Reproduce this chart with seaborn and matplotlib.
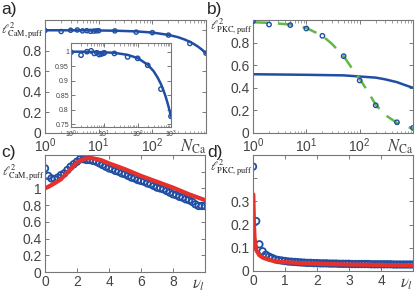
import numpy as np
import matplotlib
matplotlib.use("Agg")
import matplotlib.pyplot as plt
import seaborn as sns

# ---- data ----
# a) l^2 CaM vs N_Ca (points + fitted curve)
a_n = [1, 2, 3, 4, 5, 6, 7, 8, 9, 10, 20, 50, 100, 200, 500, 1000]
a_pts = [0.998, 0.988, 1.0, 1.003, 0.994, 0.996, 0.99, 0.992, 0.994, 0.996,
         0.994, 0.982, 0.977, 0.953, 0.871, 0.777]
a_fit_n = [1, 2, 5, 10, 20, 50, 100, 200, 300, 400, 500, 600, 700, 800, 900, 1000]
a_fit = [1.0, 1.0, 0.999, 0.998, 0.996, 0.989, 0.978, 0.955, 0.933, 0.91,
         0.888, 0.865, 0.843, 0.82, 0.798, 0.776]

# b) l^2 PKC vs N_Ca
b_n = [1, 2, 5, 10, 20, 50, 100, 200, 500, 1000]
b_pts = [0.99, 0.96, 0.955, 0.925, 0.86, 0.68, 0.465, 0.245, 0.095, 0.045]
b_dash_n = [1, 2, 5, 10, 20, 30, 50, 70, 100, 150, 200, 300, 500, 700, 1000]
b_dash = [0.98, 0.975, 0.96, 0.93, 0.86, 0.79, 0.68, 0.58, 0.48, 0.35, 0.25, 0.16, 0.09, 0.06, 0.04]
b_solid_n = [1, 10, 50, 100, 200, 300, 500, 700, 1000]
b_solid = [0.52, 0.515, 0.51, 0.50, 0.49, 0.475, 0.45, 0.425, 0.40]

# c) l^2 CaM vs nu_l
c_nu = np.arange(0, 10.01, 0.2)
c_pts = [1.24, 1.15, 1.12, 1.11, 1.13, 1.16, 1.18, 1.22, 1.26, 1.29,
         1.32, 1.35, 1.35, 1.34, 1.34, 1.33, 1.32, 1.30, 1.28, 1.26,
         1.24, 1.23, 1.21, 1.20, 1.18, 1.17, 1.15, 1.13, 1.12, 1.10,
         1.09, 1.08, 1.06, 1.05, 1.03, 1.01, 1.00, 0.99, 0.97, 0.95,
         0.93, 0.92, 0.90, 0.89, 0.87, 0.86, 0.84, 0.81, 0.79, 0.79, 0.79]
c_fit_nu = [0, 0.5, 1, 1.5, 2, 2.5, 3, 3.5, 4, 5, 6, 7, 8, 9, 10]
c_fit = [1.0, 1.05, 1.11, 1.21, 1.31, 1.36, 1.36, 1.34, 1.30, 1.23, 1.15, 1.08, 1.01, 0.93, 0.86]

# d) l^2 PKC vs nu_l
d_nu = np.arange(0, 5.01, 0.1)
d_pts = [0.45, 0.215, 0.115, 0.085, 0.07, 0.062, 0.056, 0.05, 0.047, 0.045,
         0.043, 0.041, 0.04, 0.039, 0.038, 0.037, 0.036, 0.035, 0.035, 0.034,
         0.034, 0.033, 0.033, 0.033, 0.032, 0.032, 0.032, 0.031, 0.031, 0.031,
         0.031, 0.03, 0.03, 0.03, 0.03, 0.03, 0.03, 0.029, 0.029, 0.029,
         0.029, 0.029, 0.029, 0.029, 0.028, 0.028, 0.028, 0.028, 0.028, 0.028, 0.028]
d_fit_nu = [0.01, 0.03, 0.05, 0.1, 0.2, 0.3, 0.5, 0.7, 1, 1.5, 2, 3, 4, 5]
d_fit = [0.33, 0.2, 0.14, 0.09, 0.068, 0.058, 0.048, 0.042, 0.038, 0.034, 0.031, 0.028, 0.026, 0.024]

BLUE = "#1f4ea3"
RED = "#e8302a"
GREEN = "#62b846"
GRAY = "#444444"

sns.set_style("ticks")
plt.rcParams["font.family"] = ["Liberation Sans", "DejaVu Sans"]
plt.rcParams["mathtext.fontset"] = "stix"
plt.rcParams["axes.edgecolor"] = "#777777"
plt.rcParams["xtick.color"] = "#777777"
plt.rcParams["ytick.color"] = "#777777"
plt.rcParams["xtick.labelcolor"] = GRAY
plt.rcParams["ytick.labelcolor"] = GRAY

fig = plt.figure(figsize=(4.15, 2.93), dpi=100)
W, H = 415.0, 293.0


def box(l, t, r, b):
    return fig.add_axes([l / W, 1 - b / H, (r - l) / W, (b - t) / H])


def style(ax, fs=10):
    ax.tick_params(direction="in", top=True, right=True, labelsize=fs, length=3, width=0.7, pad=2.5)
    ax.tick_params(which="minor", direction="in", top=True, right=True, length=1.8, width=0.5)
    for s in ax.spines.values():
        s.set_linewidth(0.8)


def ylab(ax, text, yv):
    ax.text(-0.005, yv, text, transform=ax.get_yaxis_transform(), ha="right", va="center",
            fontsize=8.5, color="#222222")


ax_a = box(45, 20, 206, 133)
ax_b = box(253, 20, 413, 133)
ax_c = box(45, 155, 205, 272)
ax_d = box(253, 155, 413, 271)

log_ticks = [1, 10, 100, 1000]
log_labels = [r"$\mathdefault{10^{0}}$", r"$\mathdefault{10^{1}}$", r"$\mathdefault{10^{2}}$", ""]

# a)
sns.lineplot(x=a_fit_n, y=a_fit, ax=ax_a, color=BLUE, lw=1.8)
sns.scatterplot(x=a_n, y=a_pts, ax=ax_a, marker="o", s=9, facecolor="none",
                edgecolor=BLUE, linewidth=1.0)
ax_a.set_xscale("log")
ax_a.set_xlim(1, 1000)
ax_a.set_ylim(0, 1.1)
ax_a.set_yticks([0, 0.2, 0.4, 0.6, 0.8, 1.0])
ax_a.set_yticklabels(["0", "0.2", "0.4", "0.6", "0.8", ""])
ax_a.set_xticks(log_ticks)
ax_a.set_xticklabels(log_labels)
style(ax_a)
ylab(ax_a, r"$\ell^2_{\mathrm{CaM,puff}}$", 1.0)
ax_a.text(1000, -0.04, r"$N_{\mathrm{Ca}}$", transform=ax_a.get_xaxis_transform(),
          ha="right", va="top", fontsize=12, color=GRAY)

ins = box(71, 43, 171, 127)
sns.lineplot(x=a_fit_n, y=a_fit, ax=ins, color=BLUE, lw=1.8)
sns.scatterplot(x=a_n, y=a_pts, ax=ins, marker="o", s=10, facecolor="none",
                edgecolor=BLUE, linewidth=1.0)
ins.set_xscale("log")
ins.set_xlim(1, 1000)
ins.set_ylim(0.74, 1.03)
ins.set_yticks([0.75, 0.8, 0.85, 0.9, 0.95, 1.0])
ins.set_yticklabels(["0.75", "0.8", "0.85", "0.9", "0.95", "1"])
ins.set_xticks(log_ticks)
ins.set_xticklabels([r"$\mathdefault{10^{%d}}$" % k for k in range(4)])
style(ins, fs=5)
ins.tick_params(pad=1.5)

# b)
sns.lineplot(x=b_solid_n, y=b_solid, ax=ax_b, color=BLUE, lw=1.8)
sns.lineplot(x=b_dash_n, y=b_dash, ax=ax_b, color=GREEN, lw=1.8)
ax_b.lines[-1].set_dashes([6, 4])
sns.scatterplot(x=b_n, y=b_pts, ax=ax_b, marker="o", s=10, facecolor="none",
                edgecolor=BLUE, linewidth=1.0, zorder=3)
ax_b.set_xscale("log")
ax_b.set_xlim(1, 1000)
ax_b.set_ylim(0, 1.0)
ax_b.set_yticks([0, 0.2, 0.4, 0.6, 0.8])
ax_b.set_yticklabels(["0", "0.2", "0.4", "0.6", "0.8"])
ax_b.set_xticks(log_ticks)
ax_b.set_xticklabels(log_labels)
style(ax_b)
ylab(ax_b, r"$\ell^2_{\mathrm{PKC,puff}}$", 0.95)
ax_b.text(1000, -0.04, r"$N_{\mathrm{Ca}}$", transform=ax_b.get_xaxis_transform(),
          ha="right", va="top", fontsize=12, color=GRAY)

# c)
sns.scatterplot(x=c_nu, y=c_pts, ax=ax_c, marker="o", s=22, facecolor="none",
                edgecolor=BLUE, linewidth=1.3)
sns.lineplot(x=c_fit_nu, y=c_fit, ax=ax_c, color=RED, lw=3)
ax_c.set_xlim(0, 10)
ax_c.set_ylim(0, 1.4)
ax_c.set_yticks([0, 0.2, 0.4, 0.6, 0.8, 1.0, 1.2])
ax_c.set_yticklabels(["0", "0.2", "0.4", "0.6", "0.8", "1", ""])
ax_c.set_xticks([0, 2, 4, 6, 8, 10])
ax_c.set_xticklabels(["0", "2", "4", "6", "8", ""])
style(ax_c)
ylab(ax_c, r"$\ell^2_{\mathrm{CaM,puff}}$", 1.2)
ax_c.text(10, -0.05, r"$\nu_l$", transform=ax_c.get_xaxis_transform(),
          ha="right", va="top", fontsize=12, color=GRAY)

# d)
sns.scatterplot(x=d_nu, y=d_pts, ax=ax_d, marker="o", s=22, facecolor="none",
                edgecolor=BLUE, linewidth=1.3)
sns.lineplot(x=d_fit_nu, y=d_fit, ax=ax_d, color=RED, lw=3)
ax_d.set_xlim(0, 5)
ax_d.set_ylim(0, 0.5)
ax_d.set_yticks([0, 0.1, 0.2, 0.3, 0.4])
ax_d.set_yticklabels(["0", "0.1", "0.2", "0.3", ""])
ax_d.set_xticks([0, 1, 2, 3, 4, 5])
ax_d.set_xticklabels(["0", "1", "2", "3", "4", ""])
style(ax_d)
ylab(ax_d, r"$\ell^2_{\mathrm{PKC,puff}}$", 0.45)
ax_d.text(5, -0.05, r"$\nu_l$", transform=ax_d.get_xaxis_transform(),
          ha="right", va="top", fontsize=12, color=GRAY)

for ax in [ax_a, ax_b, ax_c, ax_d, ins]:
    leg = ax.get_legend()
    if leg is not None:
        leg.remove()
    ax.set_xlabel("")
    ax.set_ylabel("")

fig.text(1 / W, 1 - 2 / H, "a)", fontsize=12.5, va="top")
fig.text(207 / W, 1 - 2 / H, "b)", fontsize=12.5, va="top")
fig.text(1 / W, 1 - 145 / H, "c)", fontsize=12.5, va="top")
fig.text(207 / W, 1 - 145 / H, "d)", fontsize=12.5, va="top")

fig.savefig("out.png", dpi=100)
